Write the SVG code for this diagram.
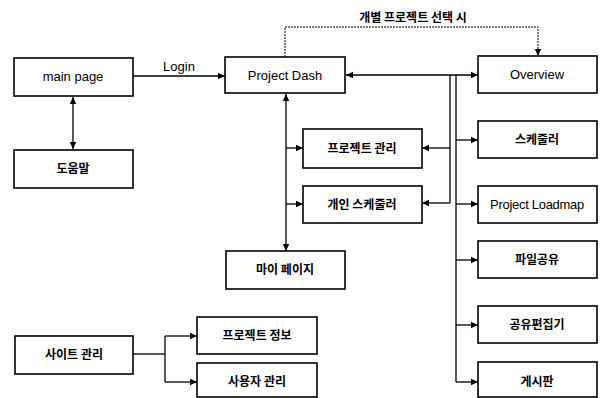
<svg xmlns="http://www.w3.org/2000/svg" width="600" height="398" viewBox="0 0 600 398">
<defs>
<marker id="ah" markerWidth="8" markerHeight="8" refX="7" refY="4" orient="auto-start-reverse" markerUnits="userSpaceOnUse">
<path d="M0,0.8 L7,4 L0,7.2 Z" fill="#000"/>
</marker>
<style>
.box{fill:#fff;stroke:#000;stroke-width:1.6}
.t{font-family:"Liberation Sans","Noto Sans CJK KR",sans-serif;font-size:13px;text-anchor:middle;fill:#000}
.k{font-family:"Noto Sans CJK KR","Liberation Sans",sans-serif;font-size:12px;font-weight:bold;text-anchor:middle;fill:#000}
.c{fill:none;stroke:#000;stroke-width:1.3}
.d{fill:none;stroke:#000;stroke-width:1;stroke-dasharray:2 1}
</style>
</defs>
<rect width="600" height="398" fill="#fff"/>
<g id="connectors">
<path class="c" d="M73,97 V149" marker-start="url(#ah)" marker-end="url(#ah)"/>
<path class="c" d="M133,76 H225" marker-end="url(#ah)"/>
<text class="t" x="179" y="71">Login</text>
<path class="d" d="M285,57 V27 H538 V56" marker-end="url(#ah)"/>
<text class="k" x="413" y="22">개별 프로젝트 선택 시</text>
<path class="c" d="M346,75 H478" marker-start="url(#ah)" marker-end="url(#ah)"/>
<path class="c" d="M450,75 V203"/>
<path class="c" d="M450,148 H422" marker-end="url(#ah)"/>
<path class="c" d="M450,203 H422" marker-end="url(#ah)"/>
<path class="c" d="M456,75 V382"/>
<path class="c" d="M456,140 H478" marker-end="url(#ah)"/>
<path class="c" d="M456,204 H478" marker-end="url(#ah)"/>
<path class="c" d="M456,260 H478" marker-end="url(#ah)"/>
<path class="c" d="M456,325 H478" marker-end="url(#ah)"/>
<path class="c" d="M456,382 H478" marker-end="url(#ah)"/>
<path class="c" d="M286,94 V251" marker-start="url(#ah)" marker-end="url(#ah)"/>
<path class="c" d="M286,148 H303" marker-end="url(#ah)"/>
<path class="c" d="M286,204 H303" marker-end="url(#ah)"/>
<path class="c" d="M133,354 H165"/>
<path class="c" d="M165,336 V382"/>
<path class="c" d="M165,336 H197" marker-end="url(#ah)"/>
<path class="c" d="M165,382 H197" marker-end="url(#ah)"/>
</g>
<g id="main-page"><rect class="box" x="14" y="58" width="119" height="38"/><text class="t" x="73" y="81">main page</text></g>
<g id="help"><rect class="box" x="14" y="150" width="119" height="38"/><text class="k" x="73" y="173">도움말</text></g>
<g id="project-dash"><rect class="box" x="225" y="57" width="120" height="36"/><text class="t" x="285" y="80">Project Dash</text></g>
<g id="overview"><rect class="box" x="478" y="56" width="119" height="37"/><text class="t" x="537" y="79">Overview</text></g>
<g id="project-manage"><rect class="box" x="303" y="129" width="119" height="39"/><text class="k" x="362" y="153">프로젝트 관리</text></g>
<g id="personal-scheduler"><rect class="box" x="303" y="186" width="119" height="37"/><text class="k" x="362" y="209">개인 스케줄러</text></g>
<g id="mypage"><rect class="box" x="226" y="251" width="119" height="38"/><text class="k" x="285" y="274">마이 페이지</text></g>
<g id="scheduler"><rect class="box" x="478" y="121" width="119" height="37"/><text class="k" x="537" y="144">스케줄러</text></g>
<g id="loadmap"><rect class="box" x="478" y="186" width="119" height="37"/><text class="t" x="537" y="209" style="letter-spacing:-0.3px">Project Loadmap</text></g>
<g id="fileshare"><rect class="box" x="478" y="241" width="119" height="37"/><text class="k" x="537" y="264">파일공유</text></g>
<g id="editor"><rect class="box" x="478" y="306" width="119" height="37"/><text class="k" x="537" y="329">공유편집기</text></g>
<g id="board"><rect class="box" x="478" y="362" width="119" height="35"/><text class="k" x="537" y="386">게시판</text></g>
<g id="site-manage"><rect class="box" x="15" y="336" width="118" height="38"/><text class="k" x="74" y="359">사이트 관리</text></g>
<g id="project-info"><rect class="box" x="197" y="317" width="120" height="37"/><text class="k" x="257" y="340">프로젝트 정보</text></g>
<g id="user-manage"><rect class="box" x="197" y="363" width="120" height="34"/><text class="k" x="257" y="386">사용자 관리</text></g>
</svg>
